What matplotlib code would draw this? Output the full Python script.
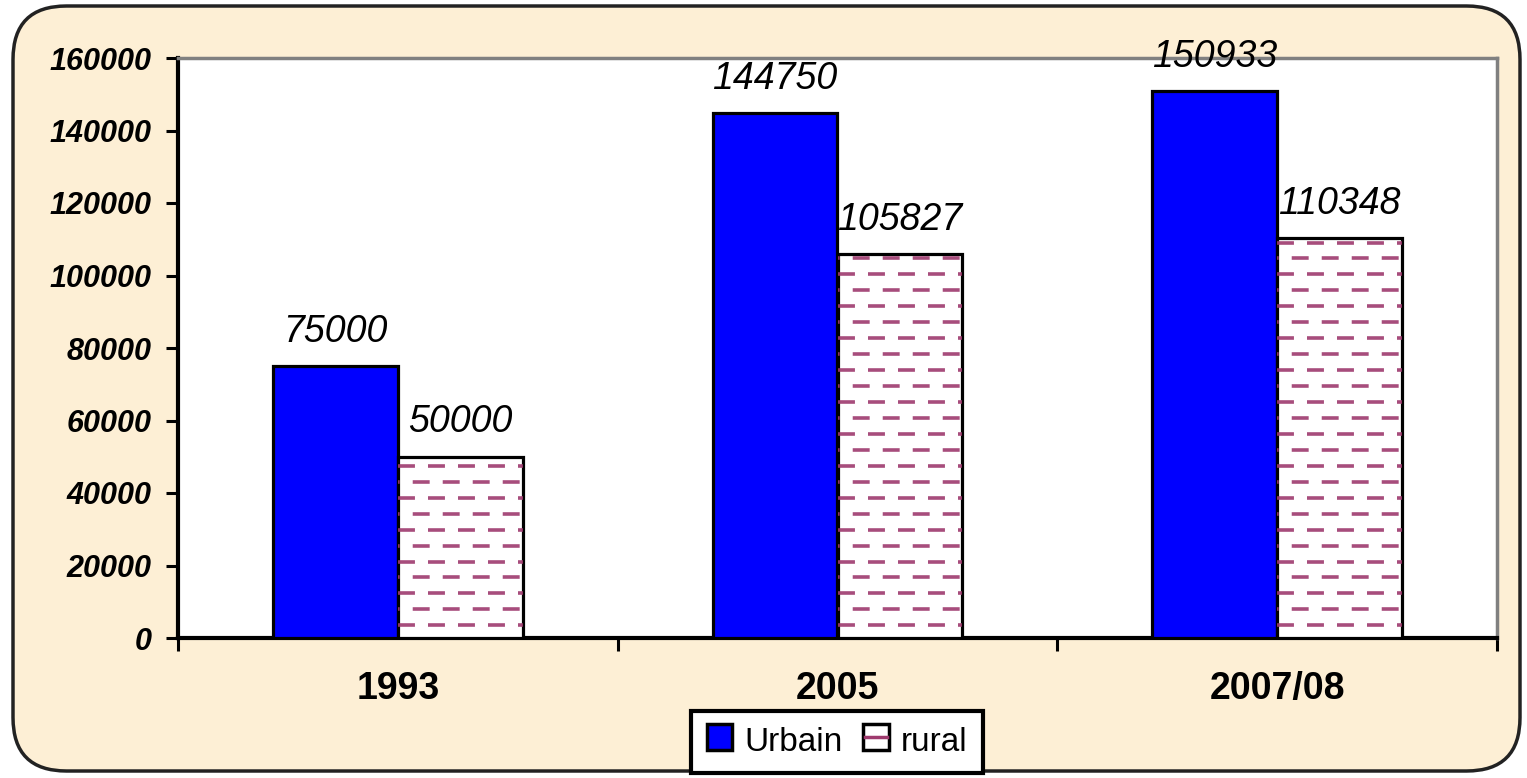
import numpy as np
import matplotlib
matplotlib.use("Agg")
import matplotlib.pyplot as plt
from matplotlib.patches import FancyBboxPatch, Rectangle
from matplotlib.lines import Line2D
from matplotlib.legend_handler import HandlerBase

plt.rcParams['font.family'] = ['Liberation Sans', 'DejaVu Sans']
plt.rcParams['lines.scale_dashes'] = False

categories = ['1993', '2005', '2007/08']
urbain = [75000, 144750, 150933]
rural = [50000, 105827, 110348]
yticks = [0, 20000, 40000, 60000, 80000, 100000, 120000, 140000, 160000]

BG = '#FDEFD5'
BLUE = '#0000FF'
DASH = '#9E3A6E'

fig = plt.figure(figsize=(15.27, 7.78), dpi=100)
fig.patch.set_facecolor('white')

# rounded cream frame
frame = FancyBboxPatch((13 / 1527, 7 / 778), 1507 / 1527, 765 / 778,
                       boxstyle='round,pad=0,rounding_size=0.035',
                       transform=fig.transFigure, facecolor=BG,
                       edgecolor='#222222', linewidth=2.5, zorder=-10,
                       mutation_aspect=1527 / 778)
fig.patches.append(frame)

ax = fig.add_axes([178 / 1527, 1 - 638 / 778, (1497 - 178) / 1527, (638 - 58) / 778])
ax.set_facecolor('white')

x = np.arange(len(categories))
w = 0.284
b1 = ax.bar(x - w / 2, urbain, w, color=BLUE, edgecolor='black', linewidth=2.3, zorder=3)
b2 = ax.bar(x + w / 2, rural, w, color='white', edgecolor='black', linewidth=2.3, zorder=3)

# dashed horizontal fill for the rural bars
rows = np.arange(3500, 160000, 4400)
for bar in b2:
    for i, yy in enumerate(rows):
        ln = Line2D([bar.get_x(), bar.get_x() + bar.get_width()], [yy, yy],
                    color=DASH, linewidth=2.6, alpha=0.9, zorder=3.1)
        ln.set_linestyle((11 if i % 2 else 0, (12.2, 9.4)))
        ax.add_line(ln)
        ln.set_clip_path(bar)

for bars, vals in [(b1, urbain), (b2, rural)]:
    for bar, v in zip(bars, vals):
        ax.annotate(str(v), (bar.get_x() + bar.get_width() / 2, v),
                    xytext=(0, 17.5), textcoords='offset points',
                    ha='center', va='baseline', fontsize=27, style='italic',
                    color='black')

ax.set_xlim(-0.5, 2.5)
ax.set_ylim(0, 160000)
ax.set_yticks(yticks)
ax.set_yticklabels([str(t) for t in yticks], fontsize=22, fontweight='bold', style='italic')
ax.tick_params(axis='y', direction='out', length=9, width=2.2, pad=10)

ax.set_xticks(x)
ax.set_xticklabels(categories, fontsize=27, fontweight='bold')
ax.set_xticks(np.arange(-0.5, 3, 1), minor=True)
ax.tick_params(axis='x', which='major', length=0, pad=24)
ax.tick_params(axis='x', which='minor', direction='out', length=9, width=2.2)

for s in ['left', 'bottom']:
    ax.spines[s].set_linewidth(3)
    ax.spines[s].set_color('black')
for s in ['top', 'right']:
    ax.spines[s].set_linewidth(2.5)
    ax.spines[s].set_color('#808080')


class RuralHandle(HandlerBase):
    def create_artists(self, legend, orig_handle, xd, yd, width, height, fontsize, trans):
        side = min(width, height)
        x0 = xd + (width - side) / 2
        r = Rectangle((x0, yd), side, side, facecolor='white',
                      edgecolor='black', linewidth=2.5, transform=trans)
        ln = Line2D([x0 + 1.5, x0 + side - 1.5], [yd + side / 2, yd + side / 2],
                    color=DASH, linewidth=2.5, transform=trans)
        return [r, ln]


class UrbainHandle(HandlerBase):
    def create_artists(self, legend, orig_handle, xd, yd, width, height, fontsize, trans):
        side = min(width, height)
        r = Rectangle((xd + (width - side) / 2, yd), side, side, facecolor=BLUE,
                      edgecolor='black', linewidth=2.5, transform=trans)
        return [r]


leg = fig.legend([b1, b2], ['Urbain', 'rural'], loc='center',
                 bbox_to_anchor=(837 / 1527, 1 - 742 / 778), ncol=2,
                 fontsize=24, frameon=True, fancybox=False, framealpha=1,
                 handlelength=0.8, handleheight=0.8, handletextpad=0.35,
                 columnspacing=0.6, borderpad=0.45, borderaxespad=0,
                 handler_map={b1: UrbainHandle(), b2: RuralHandle()})
leg.get_frame().set_edgecolor('black')
leg.get_frame().set_linewidth(3)
leg.get_frame().set_facecolor('white')

fig.savefig('out.png', dpi=100, facecolor=fig.get_facecolor())
